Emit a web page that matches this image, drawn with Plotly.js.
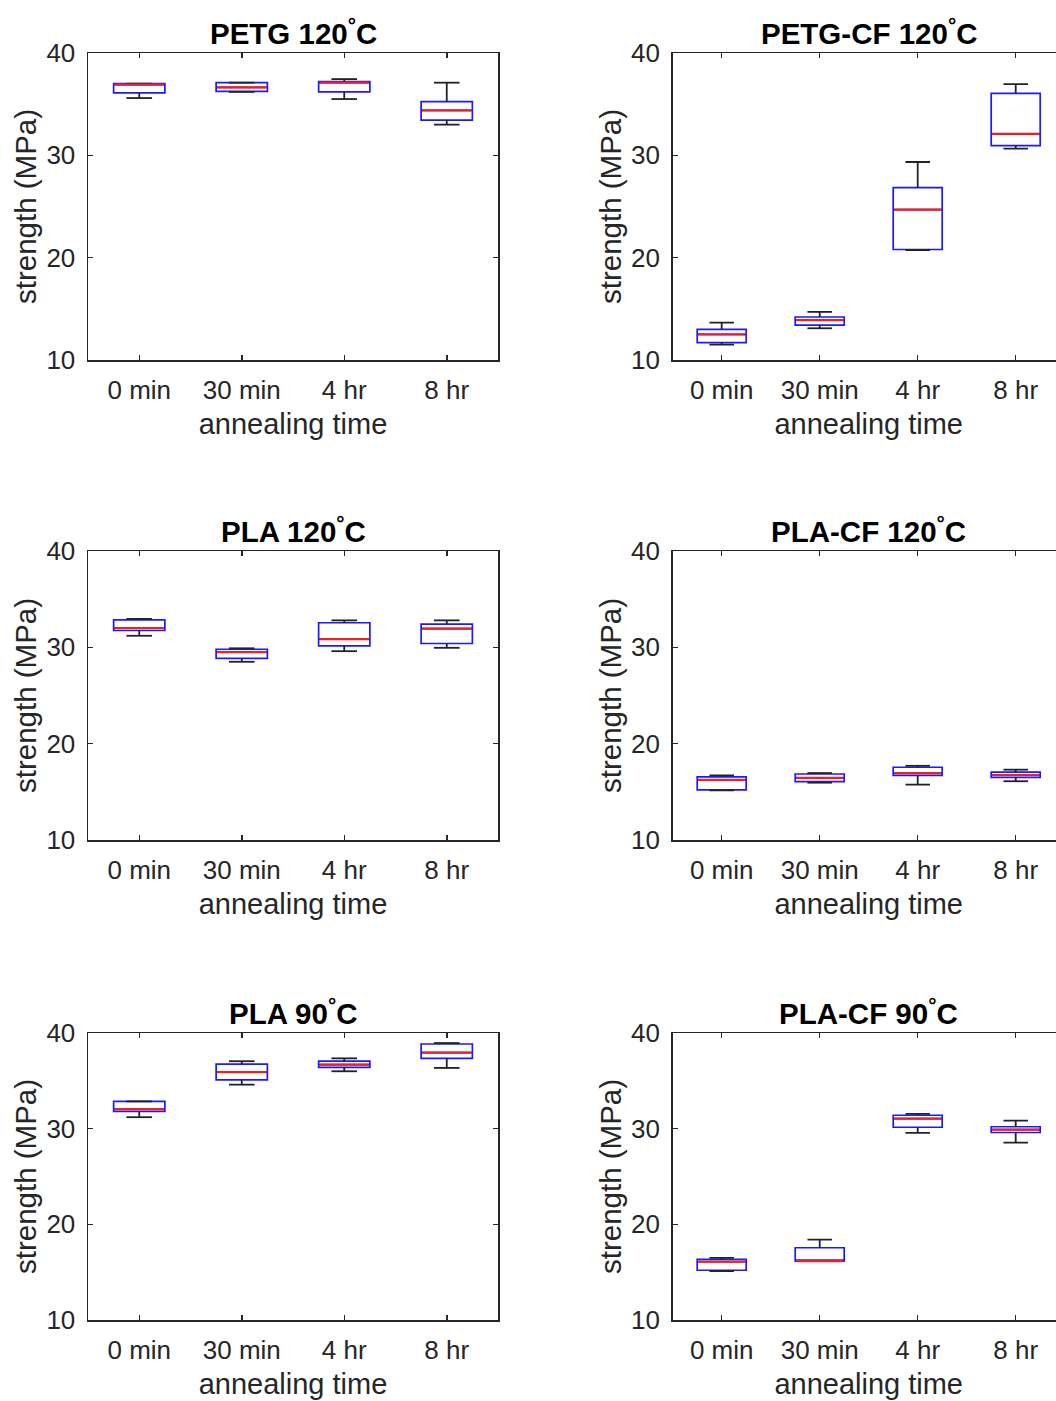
<!DOCTYPE html>
<html>
<head>
<meta charset="utf-8">
<script src="https://cdn.plot.ly/plotly-3.0.1.min.js"></script>
<style>
html,body{margin:0;padding:0;overflow:hidden;background:#fff;}
#chart{width:1070px;height:1401px;}
</style>
</head>
<body>
<div id="chart"></div>
<script>
// ---- data ----
const categories = ['0 min', '30 min', '4 hr', '8 hr'];

const PETG120_low = [35.6, 36.2, 35.5, 33.0];
const PETG120_q1  = [36.1, 36.25, 36.2, 33.45];
const PETG120_med = [36.9, 36.65, 37.1, 34.4];
const PETG120_q3  = [37.0, 37.1, 37.2, 35.25];
const PETG120_high= [37.0, 37.1, 37.45, 37.1];

const PETGCF120_low = [11.5, 13.1, 20.75, 30.65];
const PETGCF120_q1  = [11.7, 13.4, 20.8, 30.95];
const PETGCF120_med = [12.5, 13.9, 24.7, 32.1];
const PETGCF120_q3  = [13.0, 14.2, 26.85, 36.05];
const PETGCF120_high= [13.65, 14.7, 29.35, 36.95];

const PLA120_low = [31.2, 28.5, 29.6, 29.95];
const PLA120_q1  = [31.75, 28.85, 30.15, 30.4];
const PLA120_med = [32.0, 29.5, 30.85, 31.95];
const PLA120_q3  = [32.85, 29.8, 32.55, 32.4];
const PLA120_high= [32.95, 29.9, 32.8, 32.8];

const PLACF120_low = [15.15, 15.95, 15.75, 16.1];
const PLACF120_q1  = [15.2, 16.05, 16.7, 16.5];
const PLACF120_med = [16.25, 16.45, 16.95, 16.75];
const PLACF120_q3  = [16.55, 16.85, 17.55, 17.05];
const PLACF120_high= [16.7, 16.95, 17.7, 17.3];

const PLA90_low = [31.2, 34.6, 36.0, 36.35];
const PLA90_q1  = [31.8, 35.1, 36.4, 37.35];
const PLA90_med = [32.05, 35.9, 36.7, 37.95];
const PLA90_q3  = [32.85, 36.75, 37.05, 38.85];
const PLA90_high= [32.85, 37.05, 37.35, 38.95];

const PLACF90_low = [15.1, 16.15, 29.55, 28.55];
const PLACF90_q1  = [15.2, 16.15, 30.15, 29.6];
const PLACF90_med = [16.1, 16.15, 31.05, 29.9];
const PLACF90_q3  = [16.35, 17.55, 31.4, 30.2];
const PLACF90_high= [16.5, 18.4, 31.55, 30.85];

const panelTitles = ['PETG 120<sup>°</sup>C', 'PETG-CF 120<sup>°</sup>C',
                     'PLA 120<sup>°</sup>C', 'PLA-CF 120<sup>°</sup>C',
                     'PLA 90<sup>°</sup>C', 'PLA-CF 90<sup>°</sup>C'];
const yTickVals = [10, 20, 30, 40];
const xTitle = 'annealing time';
const yTitle = 'strength (MPa)';

const panelData = [
  [PETG120_low, PETG120_q1, PETG120_med, PETG120_q3, PETG120_high],
  [PETGCF120_low, PETGCF120_q1, PETGCF120_med, PETGCF120_q3, PETGCF120_high],
  [PLA120_low, PLA120_q1, PLA120_med, PLA120_q3, PLA120_high],
  [PLACF120_low, PLACF120_q1, PLACF120_med, PLACF120_q3, PLACF120_high],
  [PLA90_low, PLA90_q1, PLA90_med, PLA90_q3, PLA90_high],
  [PLACF90_low, PLACF90_q1, PLACF90_med, PLACF90_q3, PLACF90_high]
];

// ---- layout geometry (pixels) ----
const W = 1070, H = 1401;
const colX = [[88, 498], [672.7, 1064.7]];
const rowY = [[53, 360], [551, 840], [1033, 1320]];
const FONT = '"Liberation Sans", Arial, sans-serif';
const AX = '#262626';

const xpos = categories.map((c, i) => i);
const BOXW = 0.5, CAPW = 0.25;

const traces = [];
const layout = {
  width: W, height: H,
  margin: {l: 0, r: 0, t: 0, b: 0},
  paper_bgcolor: '#fff', plot_bgcolor: '#fff',
  showlegend: false,
  font: {family: FONT, color: AX},
  annotations: []
};

panelData.forEach((d, k) => {
  const [low, q1, med, q3, high] = d;
  const r = Math.floor(k / 2), c = k % 2;
  const n = k + 1;
  const xa = n === 1 ? 'x' : 'x' + n;
  const ya = n === 1 ? 'y' : 'y' + n;
  const xKey = n === 1 ? 'xaxis' : 'xaxis' + n;
  const yKey = n === 1 ? 'yaxis' : 'yaxis' + n;
  const xd = [colX[c][0] / W, colX[c][1] / W];
  const yd = [1 - rowY[r][1] / H, 1 - rowY[r][0] / H];

  // blue box (fences equal to quartiles: whiskers drawn separately in black)
  traces.push({
    type: 'box', xaxis: xa, yaxis: ya,
    x: xpos, q1: q1, median: med, q3: q3,
    lowerfence: q1, upperfence: q3,
    width: BOXW, whiskerwidth: 0, boxpoints: false,
    line: {color: '#1a1aff', width: 1.7},
    fillcolor: 'rgba(0,0,0,0)', hoverinfo: 'skip'
  });

  // whiskers + caps (black)
  const wx = [], wy = [];
  xpos.forEach((x, i) => {
    wx.push(x, x, null, x - CAPW / 2, x + CAPW / 2, null);
    wy.push(q3[i], high[i], null, high[i], high[i], null);
    wx.push(x, x, null, x - CAPW / 2, x + CAPW / 2, null);
    wy.push(q1[i], low[i], null, low[i], low[i], null);
  });
  traces.push({
    type: 'scatter', mode: 'lines', xaxis: xa, yaxis: ya,
    x: wx, y: wy, line: {color: '#222222', width: 1.8},
    hoverinfo: 'skip', connectgaps: false
  });

  // median (red), drawn wide enough to fully cover the box trace's own median
  const mx = [], my = [];
  xpos.forEach((x, i) => {
    mx.push(x - BOXW / 2 + 0.01, x + BOXW / 2 - 0.01, null);
    my.push(med[i], med[i], null);
  });
  traces.push({
    type: 'scatter', mode: 'lines', xaxis: xa, yaxis: ya,
    x: mx, y: my, line: {color: '#f02020', width: 2.2},
    hoverinfo: 'skip'
  });

  const common = {
    showgrid: false, zeroline: false,
    showline: true, linecolor: AX, linewidth: 1.5,
    mirror: 'allticks', ticks: 'inside', ticklen: 5, tickwidth: 1.5, tickcolor: AX,
    tickfont: {family: FONT, size: 26, color: AX},
    fixedrange: true
  };
  layout[xKey] = Object.assign({}, common, {
    domain: xd, anchor: ya,
    range: [-0.5, 3.5],
    tickmode: 'array', tickvals: xpos, ticktext: categories,
    ticklabelstandoff: 6,
    title: {text: xTitle, font: {family: FONT, size: 29, color: AX}, standoff: 10}
  });
  layout[yKey] = Object.assign({}, common, {
    domain: yd, anchor: xa,
    range: [10, 40],
    tickmode: 'array', tickvals: yTickVals,
    ticklabelstandoff: 6,
    title: {text: yTitle, font: {family: FONT, size: 29.5, color: AX}, standoff: 1}
  });

  layout.annotations.push({
    text: '<b>' + panelTitles[k] + '</b>',
    xref: 'paper', yref: 'paper',
    x: (xd[0] + xd[1]) / 2, y: yd[1],
    xanchor: 'center', yanchor: 'bottom', yshift: 1,
    showarrow: false,
    font: {family: FONT, size: 29.5, color: '#000'}
  });
});

Plotly.newPlot('chart', traces, layout, {staticPlot: true, displayModeBar: false});
</script>
</body>
</html>
